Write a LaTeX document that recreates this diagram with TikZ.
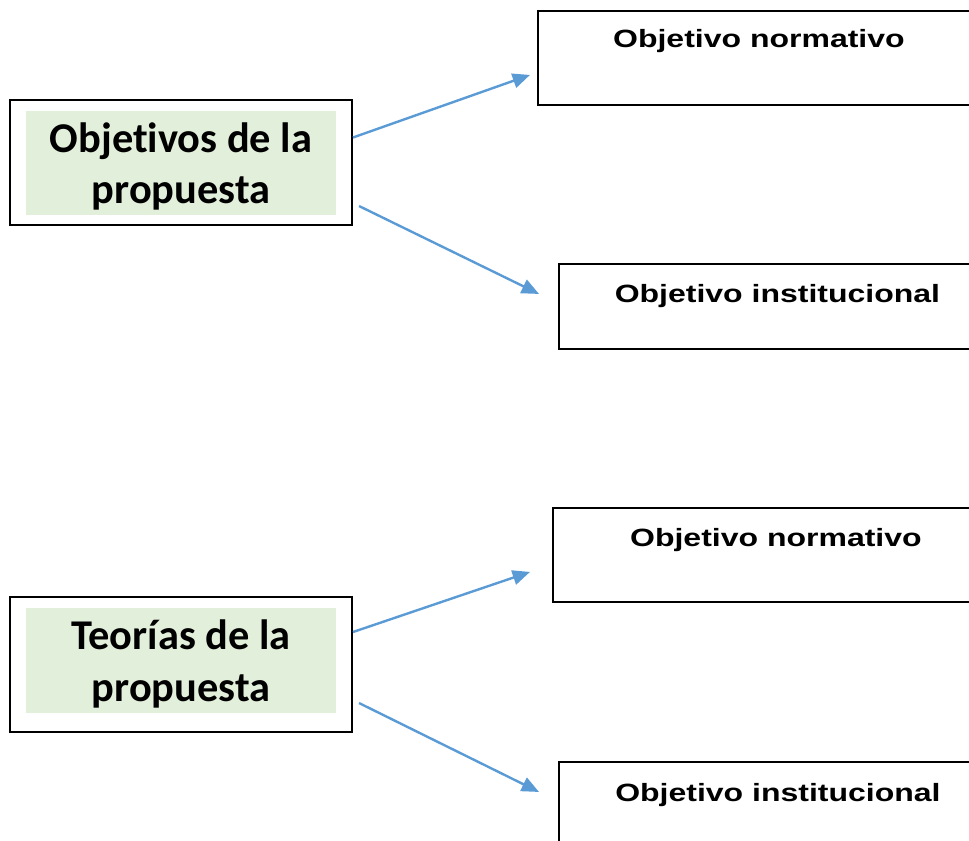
\documentclass[tikz,border=0pt]{standalone}
\usepackage{fontspec}
\usetikzlibrary{arrows.meta,calc}

\newfontfamily\calfont[Ligatures=NoCommon]{Carlito}
\newfontfamily\arialfont[FakeStretch=1.28]{Liberation Sans}

\definecolor{boxgreen}{RGB}{226,239,218}
\definecolor{arrowblue}{RGB}{91,155,213}

\tikzset{
  outerbox/.style={draw, line width=1.5pt, inner sep=0pt, minimum width=256.5pt},
  greenbox/.style={fill=boxgreen, inner sep=0pt, minimum width=232.5pt, align=center,
    text depth=0pt, font=\calfont\bfseries\fontsize{31.8}{38.5}\selectfont},
  rightbox/.style={draw, line width=1.4pt, inner sep=0pt, anchor=north west,
    font=\arialfont\bfseries\fontsize{18.75}{22}\selectfont},
  arr/.style={draw=arrowblue, line width=1.8pt, -{Triangle[length=13pt,width=11pt]}}
}

\begin{document}
\begin{tikzpicture}[x=0.75pt, y=-0.75pt]
  \clip (0,0) rectangle (969,840);

  % first group
  \node[outerbox, minimum height=93.75pt] (objbox) at (181,162.5) {};
  \node[greenbox, minimum height=78pt] (objtxt) at (181,163) {Objetivos de la\\propuesta};
  \node[rightbox, minimum width=331.5pt, text height=27.75pt, text depth=42.75pt] (norm1) at (537,10) {Objetivo normativo};
  \node[rightbox, minimum width=327.75pt, text height=29.25pt, text depth=34.5pt] (inst1) at (558,263) {Objetivo institucional};

  \draw[arr] ($(objbox.east)+(0,-25)$) -- ($(norm1.west)+(-7,17)$);
  \draw[arr] ($(objbox.east)+(6,43.5)$) -- ($(inst1.west)+(-19,-12.5)$);

  % second group
  \node[outerbox, minimum height=101.25pt] (teobox) at (181,664.5) {};
  \node[greenbox, minimum height=78.75pt] (teotxt) at (181,660.5) {Teorías de la\\propuesta};
  \node[rightbox, minimum width=334.5pt, text height=29.25pt, text depth=41.25pt] (norm2) at (552,507) {Objetivo normativo};
  \node[rightbox, minimum width=328.5pt, text height=30pt, text depth=33pt] (inst2) at (558,761) {Objetivo institucional};

  \draw[arr] ($(teobox.east)+(0,-32.5)$) -- ($(norm2.west)+(-22,17)$);
  \draw[arr] ($(teobox.east)+(6,38.5)$) -- ($(inst2.west)+(-19,-12)$);
\end{tikzpicture}
\end{document}
